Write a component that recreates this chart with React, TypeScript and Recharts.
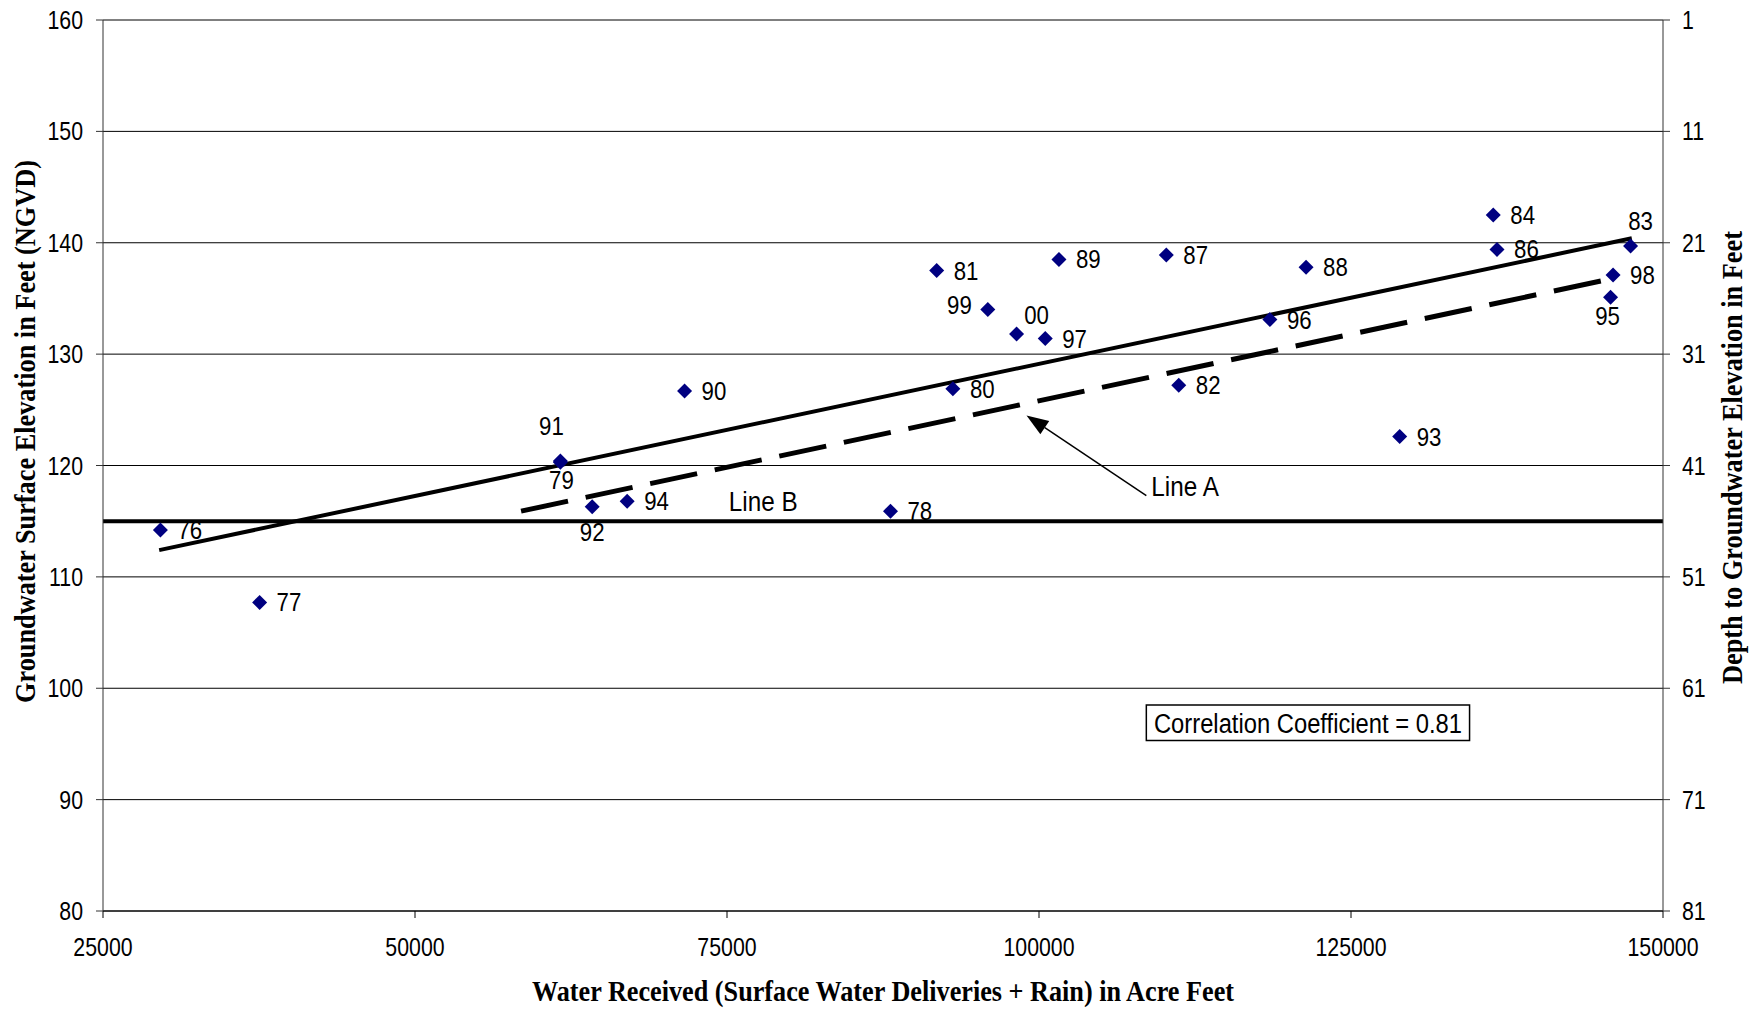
import React from "react";
import {
  ScatterChart,
  Scatter,
  XAxis,
  YAxis,
  CartesianGrid,
  ReferenceLine,
  ReferenceArea,
  ReferenceDot,
  Label,
} from "recharts";

// year of each observation (two-digit), water received (acre feet), groundwater elevation (ft NGVD)
const YEARS = ["76", "77", "78", "79", "80", "81", "82", "83", "84", "86", "87", "88", "89", "90", "91", "92", "93", "94", "95", "96", "97", "98", "99", "00"];
const WATER_RECEIVED = [29600, 37550, 88100, 61650, 93100, 91800, 111200, 147400, 136400, 136700, 110200, 121400, 101600, 71600, 61650, 64200, 128900, 67000, 145800, 118500, 100500, 146000, 95900, 98200];
const ELEVATION = [114.2, 107.7, 115.9, 120.3, 126.9, 137.5, 127.2, 139.7, 142.5, 139.4, 138.9, 137.8, 138.5, 126.7, 120.4, 116.3, 122.6, 116.8, 135.1, 133.1, 131.4, 137.1, 134.0, 131.8];

const X_TICKS = [25000, 50000, 75000, 100000, 125000, 150000];
const ELEV_TICKS = [80, 90, 100, 110, 120, 130, 140, 150, 160];
const DEPTH_TICKS = [1, 11, 21, 31, 41, 51, 61, 71, 81];

// fitted trend (solid), Line A (dashed), Line B (horizontal)
const TREND_X = [29500, 147500];
const TREND_Y = [112.4, 140.4];
const LINE_A_X = [58500, 146000];
const LINE_A_Y = [115.9, 136.8];
const LINE_B_Y = 115;
const LINE_B_LABEL_X = 77900;

// arrow pointing at Line A: [tail, tip]
const ARROW_X = [108600, 99000];
const ARROW_Y = [117.3, 124.5];

const CORRELATION = 0.81;
const BOX_X = [108600, 134500];
const BOX_Y = [95.3, 98.5];

// Arial Narrow look: Liberation Sans squeezed horizontally
const SANS = "'Liberation Sans', Arial, sans-serif";
const SERIF = "'Liberation Serif', 'Times New Roman', serif";
const NAVY = "#000080";

function NarrowText({ x, y, anchor = "start", size = 26, squeeze = 0.82, children }: any) {
  return (
    <text
      transform={`translate(${x} ${y}) scale(${squeeze} 1)`}
      x={0}
      y={0}
      textAnchor={anchor}
      fontFamily={SANS}
      fontSize={size}
      fill="#000"
    >
      {children}
    </text>
  );
}

type Placement = { dx: number; dy: number; anchor: "start" | "middle" | "end" };
const RIGHT: Placement = { dx: 17, dy: 9, anchor: "start" };
const LABEL_PLACEMENT: Record<string, Placement> = {
  "91": { dx: -9, dy: -26, anchor: "middle" },
  "79": { dx: 1, dy: 27, anchor: "middle" },
  "92": { dx: 0, dy: 34, anchor: "middle" },
  "99": { dx: -16, dy: 4, anchor: "end" },
  "00": { dx: 20, dy: -10, anchor: "middle" },
  "83": { dx: 10, dy: -16, anchor: "middle" },
  "95": { dx: -3, dy: 28, anchor: "middle" },
};

const points = YEARS.map((year, i) => ({
  year,
  water: WATER_RECEIVED[i],
  elev: ELEVATION[i],
}));

const YearDiamond = (props: any) => {
  const { cx, cy, payload } = props;
  const s = 7.5;
  const p = LABEL_PLACEMENT[payload.year] ?? RIGHT;
  return (
    <g>
      <polygon points={`${cx},${cy - s} ${cx + s},${cy} ${cx},${cy + s} ${cx - s},${cy}`} fill={NAVY} />
      <NarrowText x={cx + p.dx} y={cy + p.dy} anchor={p.anchor} size={25} squeeze={0.89}>
        {payload.year}
      </NarrowText>
    </g>
  );
};

const ArrowToLineA = (props: any) => {
  const { x1, y1, x2, y2 } = props;
  const ang = Math.atan2(y2 - y1, x2 - x1);
  const len = 22;
  const half = 8;
  const bx = x2 - len * Math.cos(ang);
  const by = y2 - len * Math.sin(ang);
  const nx = -Math.sin(ang) * half;
  const ny = Math.cos(ang) * half;
  return (
    <g>
      <line x1={x1} y1={y1} x2={bx} y2={by} stroke="#000" strokeWidth={1.5} />
      <polygon points={`${x2},${y2} ${bx + nx},${by + ny} ${bx - nx},${by - ny}`} fill="#000" />
      <NarrowText x={x1 + 5} y={y1} size={27} squeeze={0.9}>
        Line A
      </NarrowText>
    </g>
  );
};

const LineBLabel = (props: any) => (
  <NarrowText x={props.cx} y={props.cy - 10} anchor="middle" size={27} squeeze={0.9}>
    Line B
  </NarrowText>
);

const LeftTick = ({ x, y, payload }: any) => (
  <NarrowText x={x} y={y + 9} anchor="end">
    {payload.value}
  </NarrowText>
);
const RightTick = ({ x, y, payload }: any) => (
  <NarrowText x={x} y={y + 9} anchor="start">
    {payload.value}
  </NarrowText>
);
const BottomTick = ({ x, y, payload }: any) => (
  <NarrowText x={x} y={y + 18} anchor="middle">
    {payload.value}
  </NarrowText>
);

const CorrelationLabel = ({ viewBox }: any) => (
  <text
    x={viewBox.x + viewBox.width / 2}
    y={viewBox.y + viewBox.height / 2 + 10}
    textAnchor="middle"
    fontFamily={SANS}
    fontSize={27}
    textLength={308}
    lengthAdjust="spacingAndGlyphs"
    fill="#000"
  >
    {`Correlation Coefficient = ${CORRELATION}`}
  </text>
);

export default function App() {
  return (
    <div style={{ position: "absolute", left: 0, top: 0, background: "#fff" }}>
      <ScatterChart width={1763} height={1009} margin={{ top: 20, right: 0, bottom: 0, left: 0 }}>
        <CartesianGrid vertical={false} stroke="#000" strokeWidth={1} />
        <XAxis
          type="number"
          dataKey="water"
          domain={[25000, 150000]}
          ticks={X_TICKS}
          height={98}
          tick={BottomTick}
          tickSize={7}
          tickMargin={20}
          stroke="#000"
          allowDataOverflow
        >
          <Label
            content={({ viewBox }: any) => (
              <text
                x={viewBox.x + viewBox.width / 2}
                y={viewBox.y + 90}
                textAnchor="middle"
                fontFamily={SERIF}
                fontWeight="bold"
                fontSize={29}
                textLength={702}
                lengthAdjust="spacingAndGlyphs"
                fill="#000"
              >
                Water Received (Surface Water Deliveries + Rain) in Acre Feet
              </text>
            )}
          />
        </XAxis>
        <YAxis
          type="number"
          dataKey="elev"
          domain={[80, 160]}
          ticks={ELEV_TICKS}
          width={103}
          tick={LeftTick}
          tickSize={7}
          tickMargin={13}
          stroke="#333"
          allowDataOverflow
        >
          <Label
            content={({ viewBox }: any) => {
              const x = viewBox.x + 35;
              const y = viewBox.y + viewBox.height / 2 - 34;
              return (
                <text
                  x={x}
                  y={y}
                  transform={`rotate(-90 ${x} ${y})`}
                  textAnchor="middle"
                  fontFamily={SERIF}
                  fontWeight="bold"
                  fontSize={29}
                  textLength={543}
                  lengthAdjust="spacingAndGlyphs"
                  fill="#000"
                >
                  Groundwater Surface Elevation in Feet (NGVD)
                </text>
              );
            }}
          />
        </YAxis>
        <YAxis
          yAxisId="depth"
          orientation="right"
          type="number"
          domain={[1, 81]}
          reversed
          ticks={DEPTH_TICKS}
          width={100}
          tick={RightTick}
          tickSize={7}
          tickMargin={12}
          stroke="#333"
          allowDataOverflow
        >
          <Label
            content={({ viewBox }: any) => {
              const x = viewBox.x + 79;
              const y = viewBox.y + viewBox.height / 2 - 8;
              return (
                <text
                  x={x}
                  y={y}
                  transform={`rotate(-90 ${x} ${y})`}
                  textAnchor="middle"
                  fontFamily={SERIF}
                  fontWeight="bold"
                  fontSize={29}
                  textLength={453}
                  lengthAdjust="spacingAndGlyphs"
                  fill="#000"
                >
                  Depth to Groundwater Elevation in Feet
                </text>
              );
            }}
          />
        </YAxis>

        <ReferenceLine y={LINE_B_Y} stroke="#000" strokeWidth={4} />
        <ReferenceDot x={LINE_B_LABEL_X} y={LINE_B_Y} r={0} shape={LineBLabel} />
        <ReferenceLine
          segment={[
            { x: TREND_X[0], y: TREND_Y[0] },
            { x: TREND_X[1], y: TREND_Y[1] },
          ]}
          stroke="#000"
          strokeWidth={4}
        />
        <ReferenceLine
          segment={[
            { x: LINE_A_X[0], y: LINE_A_Y[0] },
            { x: LINE_A_X[1], y: LINE_A_Y[1] },
          ]}
          stroke="#000"
          strokeWidth={5}
          strokeDasharray="48 18"
        />
        <ReferenceLine
          segment={[
            { x: ARROW_X[0], y: ARROW_Y[0] },
            { x: ARROW_X[1], y: ARROW_Y[1] },
          ]}
          shape={ArrowToLineA}
        />
        <ReferenceArea
          x1={BOX_X[0]}
          x2={BOX_X[1]}
          y1={BOX_Y[0]}
          y2={BOX_Y[1]}
          fill="#fff"
          fillOpacity={1}
          stroke="#000"
          strokeWidth={1.5}
          label={CorrelationLabel}
        />

        <Scatter data={points} dataKey="elev" shape={YearDiamond} isAnimationActive={false} />
      </ScatterChart>
    </div>
  );
}
